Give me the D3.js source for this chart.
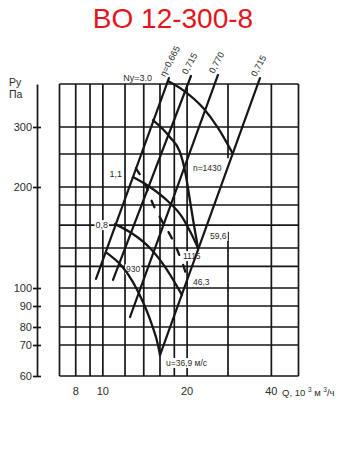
<!DOCTYPE html>
<html><head><meta charset="utf-8">
<script src="https://cdn.jsdelivr.net/npm/d3@7"></script>
<style>body{margin:0;background:#fff}svg{display:block}</style>
</head><body>
<svg id="c" width="345" height="450"></svg>
<script>
// ---------------- data ----------------
const title = "BO 12-300-8";
const xGrid = [7, 8, 9, 10, 12, 14, 16, 18, 20, 28, 40, 50];
const yGrid = [60, 70, 80, 90, 100, 120, 140, 160, 180, 200, 250, 300, 400];
const xTicks = [8, 10, 20, 40];
const yTicks = [60, 70, 80, 90, 100, 200, 300];
// the scanned grid line Q=28 is interrupted between these P values
const gridGapQ = 28;
const gridGapP = [154, 243];

// efficiency rays (top end, bottom end)
const etaLabels = ["η=0,665", "0,715", "0,770", "0,715"];
const etaQ = [[17.22, 9.45], [20.64, 10.87], [25.78, 12.50], [36.41, 16.00]];
const etaP = [[416, 108], [422, 107], [425, 84.6], [416, 66.6]];

// power curves Ny
const powerLabels = ["Ny=3.0", "1,1", "0,8"];
const powerQ = [[17.08, 19.33, 22.79, 25.78, 28.93],
                [12.81, 14.73, 17.08, 19.17, 20.81, 21.87],
                [11.05, 12.61, 14.73, 16.81, 19.17]];
const powerP = [[408, 384, 341, 298, 253],
                [214, 200, 184, 168, 151, 140],
                [161, 153, 140, 118, 96]];

// fan speed curves
const speedLabels = ["n=1430", "1115", "930"];
const speedU = ["59,6", "46,3", "u=36,9 м/с"];
const speedQ = [[15.10, 17.37, 18.86, 19.64, 20.47, 21.16, 21.87],
                [13.13, 14.26, 15.10, 16.26, 17.66, 18.70, 19.49, 19.98],
                [10.26, 11.70, 12.81, 13.91, 14.98, 15.74, 16.00]];
const speedP = [[314, 280, 253, 224, 185, 160, 140],
                [227, 201, 181, 164, 148, 133, 119, 109],
                [135, 120, 105, 92.1, 80.9, 70, 66.6]];

// ---------------- layout ----------------
const INK = "#161616", TXT = "#2b2b2b", FONT = "'Liberation Sans', Arial, sans-serif";
const svg = d3.select("#c");
const x = d3.scaleLog().domain([7, 50]).range([59.5, 298.5]);
// scanned chart: piecewise log calibration of the printed P axis
const y = d3.scaleLog().domain([60, 70, 80, 90, 100, 140, 200, 300, 400])
                       .range([376, 345, 327, 306, 288, 248, 187, 127, 84]);

const gGrid = svg.append("g"), gBg = svg.append("g"), gCurves = svg.append("g"), gText = svg.append("g");

// title
svg.append("text").attr("x", 173).attr("y", 28).attr("text-anchor", "middle")
  .attr("font-family", FONT).attr("font-size", 28).attr("fill", "#e5131b").text(title);

// grid
const vSegs = [];
xGrid.forEach(q => {
  if (q === gridGapQ) { vSegs.push([q, 60, gridGapP[0]]); vSegs.push([q, gridGapP[1], 400]); }
  else vSegs.push([q, 60, 400]);
});
gGrid.selectAll("line.v").data(vSegs).join("line")
  .attr("x1", d => x(d[0])).attr("x2", d => x(d[0])).attr("y1", d => y(d[1])).attr("y2", d => y(d[2]))
  .attr("stroke", INK).attr("stroke-width", 1.7);
gGrid.selectAll("line.h").data(yGrid).join("line")
  .attr("x1", x(7)).attr("x2", x(50)).attr("y1", d => y(d)).attr("y2", d => y(d))
  .attr("stroke", INK).attr("stroke-width", 1.7);

// y axis (separate line to the left)
const ax = svg.append("g").attr("transform", "translate(37,0)")
  .call(d3.axisLeft(y).tickValues(yTicks).tickFormat(d3.format("d"))
        .tickSizeInner(4).tickSizeOuter(0).tickPadding(1));
ax.select(".domain").attr("stroke", INK).attr("stroke-width", 1.7);
ax.selectAll(".tick line").attr("x1", 4).attr("stroke", INK).attr("stroke-width", 1.7);
ax.selectAll(".tick text").attr("font-family", FONT).attr("font-size", 11).attr("fill", TXT);
svg.append("text").attr("x", 9).attr("y", 86).attr("font-family", FONT).attr("font-size", 10.5).attr("fill", TXT).text("Ру");
svg.append("text").attr("x", 9).attr("y", 98).attr("font-family", FONT).attr("font-size", 10.5).attr("fill", TXT).text("Па");

// x tick labels
svg.selectAll("text.xt").data(xTicks).join("text")
  .attr("x", d => x(d)).attr("y", 395).attr("text-anchor", "middle")
  .attr("font-family", FONT).attr("font-size", 11).attr("fill", TXT).text(d => d);
const ql = svg.append("text").attr("x", 282).attr("y", 396).attr("font-family", FONT)
  .attr("font-size", 9.5).attr("fill", TXT);
ql.append("tspan").text("Q, 10 ");
ql.append("tspan").attr("dy", -4).attr("font-size", 6.5).text("3");
ql.append("tspan").attr("dy", 4).text(" м ");
ql.append("tspan").attr("dy", -4).attr("font-size", 6.5).text("3");
ql.append("tspan").attr("dy", 4).text("/ч");

// curves
const line = d3.line().x(d => x(d[0])).y(d => y(d[1])).curve(d3.curveMonotoneX);
const pts = (Q, P) => Q.map((q, i) => [q, P[i]]);

etaQ.forEach((q, i) => {
  gCurves.append("path").attr("d", d3.line().x(d => x(d[0])).y(d => y(d[1]))(pts(q, etaP[i])))
    .attr("fill", "none").attr("stroke", INK).attr("stroke-width", 2.2).attr("stroke-linecap", "round");
  gText.append("text").attr("font-family", FONT).attr("font-size", 9).attr("fill", TXT)
    .attr("transform", `translate(${x(q[0]) - 4},${y(etaP[i][0]) - 1}) rotate(-62)`).text(etaLabels[i]);
});
powerQ.forEach((q, i) => {
  gCurves.append("path").attr("d", line(pts(q, powerP[i])))
    .attr("fill", "none").attr("stroke", INK).attr("stroke-width", 2.3).attr("stroke-linecap", "round");
});
speedQ.forEach((q, i) => {
  gCurves.append("path").attr("d", line(pts(q, speedP[i])))
    .attr("fill", "none").attr("stroke", INK).attr("stroke-width", 2.3).attr("stroke-linecap", "round")
    .attr("stroke-dasharray", i === 1 ? "7,11" : null);
});

// labels with white background (over grid, under curves)
function label(txt, px, py, anchor, size) {
  const t = gText.append("text").attr("x", px).attr("y", py).attr("text-anchor", anchor)
    .attr("font-family", FONT).attr("font-size", size).attr("fill", TXT).text(txt);
  const b = t.node().getBBox();
  gBg.append("rect").attr("x", b.x - 1).attr("y", b.y).attr("width", b.width + 2).attr("height", b.height)
    .attr("fill", "#fff");
}
const powOff = [[-16, 0], [-11, 0], [-7, 4]];
powerLabels.forEach((s, i) => label(s, x(powerQ[i][0]) + powOff[i][0], y(powerP[i][0]) + powOff[i][1], "end", 9));
const spIdx = [3, 5, 1], spOff = [[8, 1], [4, 5], [4, 6]];
speedLabels.forEach((s, i) => label(s, x(speedQ[i][spIdx[i]]) + spOff[i][0], y(speedP[i][spIdx[i]]) + spOff[i][1], "start", 8.5));
const uOff = [[12, -9], [6, 7], [6, 11]];
speedU.forEach((s, i) => {
  const k = speedQ[i].length - 1;
  label(s, x(speedQ[i][k]) + uOff[i][0], y(speedP[i][k]) + uOff[i][1], "start", 8.5);
});
</script>
</body></html>
